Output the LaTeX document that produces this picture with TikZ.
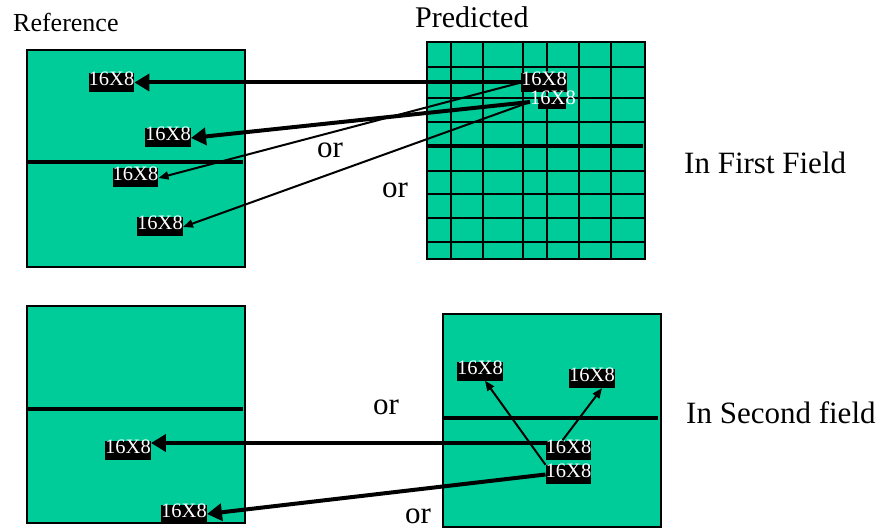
\documentclass[tikz,border=0pt]{standalone}
\usepackage{fontspec}
\setmainfont{Liberation Serif}
\usepackage{tikz}
\usetikzlibrary{arrows.meta, positioning}
\definecolor{fieldgreen}{RGB}{0,204,153}

\begin{document}
\begin{tikzpicture}[
    x=1pt, y=-1pt,
    every node/.style={font=\fontsize{31}{34}\selectfont, inner sep=0pt},
    field/.style={draw, fill=fieldgreen, line width=2.5pt},
    split/.style={line width=3.5pt},
    grid/.style={line width=2pt},
    blk/.style={fill=black, text=white, font=\fontsize{20.5}{22}\selectfont, inner xsep=0pt, inner ysep=0.5pt, text height=12pt, text depth=6pt},
    ar/.style={-{Triangle[length=15pt, width=17pt]}, line width=4pt},
    thinar/.style={-{Triangle[length=10pt, width=8pt]}, line width=2pt}
]
\useasboundingbox (0,0) rectangle (883,529);

\node[anchor=base west, font=\fontsize{26}{28}\selectfont] (reftitle) at (13,32) {Reference};
\node[anchor=base west, font=\fontsize{30}{33}\selectfont] (predtitle) at (415,28) {Predicted};
\node[anchor=base west] (first) at (684,174) {In First Field};
\node[anchor=base west] (second) at (686,423) {In Second field};
\node[anchor=base west] (or1) at (317,158) {or};
\node[anchor=base west] (or2) at (382,198) {or};
\node[anchor=base west] (or3) at (373,414) {or};
\node[anchor=base west] (or4) at (405,523) {or};

\draw[field] (27,50) rectangle (245,267);
\draw[split] (27,162) -- (243,162);
\draw[field] (427,42) rectangle (645,259);
\foreach \gx in {451,483,523,547,579,611}
    \draw[grid] (\gx,42) -- (\gx,259);
\foreach \gy in {67,98,122,171,194,218,242}
    \draw[grid] (427,\gy) -- (645,\gy);
\draw[split] (427,146) -- (643,146);

\draw[field] (27,306) rectangle (245,523);
\draw[split] (27,409) -- (243,409);
\draw[field] (443,314) rectangle (661,527);
\draw[split] (443,418) -- (658,418);

\node[blk] (ra) at (111.5,82.5) {16X8};
\node[blk] (rb) at (168,138) {16X8};
\node[blk] (rc) at (135.5,178) {16X8};
\node[blk] (rd) at (160,227) {16X8};
\node[blk] (pa) at (544,82.5) {16X8};
\fill (538,98) rectangle (566,109);
\node[blk, fill=none] (pb) at (553,102) {16X8};

\node[blk] (sa) at (128,450) {16X8};
\node[blk] (sb) at (184,514) {16X8};
\node[blk] (qa) at (480,371) {16X8};
\node[blk] (qb) at (592,378.5) {16X8};
\node[blk] (qc) at (568.5,450) {16X8};
\node[blk] (qd) at (568.5,474.5) {16X8};

\draw[ar] (pa.west) -- (ra.east);
\draw[thinar] (pa.west) -- (rc.east);
\draw[ar] (pb.west) -- (rb.east);
\draw[thinar] (pb.west) -- (rd.east);

\draw[ar] ([yshift=7pt]qc.west) -- ([yshift=7pt]sa.east);
\draw[ar] (qd.west) -- (sb.east);
\draw[thinar] (qd.north west) -- ([xshift=5pt]qa.south);
\draw[thinar] ([xshift=-6pt]qc.north) -- ([xshift=10pt]qb.south);
\end{tikzpicture}
\end{document}
